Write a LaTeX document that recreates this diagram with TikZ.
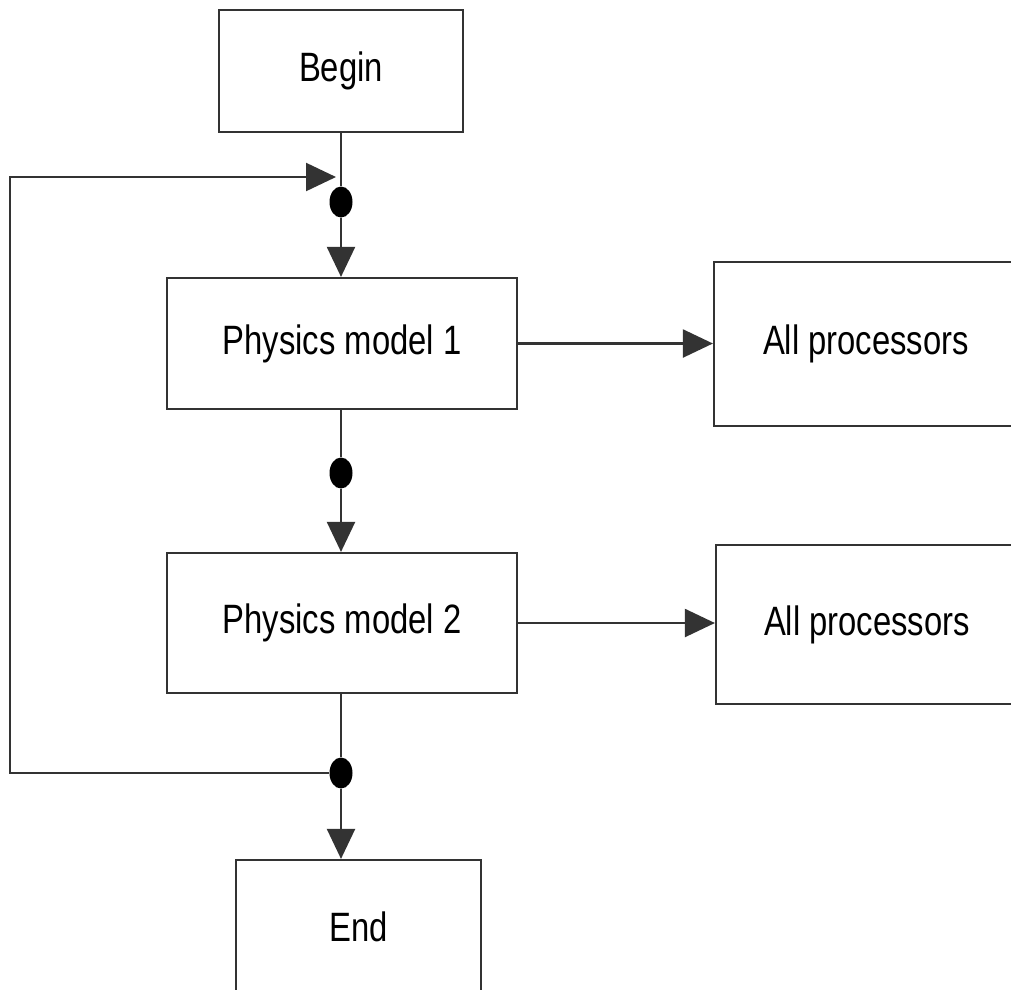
\documentclass[tikz,border=0pt]{standalone}
\usepackage{fontspec}
\setmainfont{Liberation Sans}
\usetikzlibrary{arrows.meta,shapes.geometric}
\tikzset{
  boxn/.style={draw=black!80, line width=2.2pt, rectangle, inner sep=0pt, fill=white,
    font=\fontsize{41}{48}\selectfont},
  dotn/.style={ellipse, fill=black, inner sep=0pt, minimum width=23pt, minimum height=31pt},
  conn/.style={draw=black!80, line width=2.2pt},
  arr/.style={conn, -{Triangle[length=30pt,width=28pt]}}
}
\newcommand{\lbl}[1]{\scalebox{0.8}[1]{#1}}
\begin{document}
\begin{tikzpicture}[x=1pt,y=-1pt]
\useasboundingbox (0,0) rectangle (1011,989);
\clip (0,0) rectangle (1011,989);
\fill[white] (0,0) rectangle (1011,989);
\node[boxn, minimum width=244pt, minimum height=122pt] (begin) at (341,71) {\lbl{Begin}};
\node[boxn, minimum width=350pt, minimum height=131pt] (pm1) at (342,343.5) {\lbl{Physics model 1}};
\node[boxn, minimum width=304pt, minimum height=164pt] (ap1) at (866,344) {\lbl{All processors}};
\node[boxn, minimum width=350pt, minimum height=140pt] (pm2) at (342,623) {\lbl{Physics model 2}};
\node[boxn, minimum width=302pt, minimum height=159pt] (ap2) at (867,624.5) {\lbl{All processors}};
\node[boxn, minimum width=245pt, minimum height=134pt] (end) at (358.5,927) {\lbl{End}};
\node[dotn] (d1) at (341,202) {};
\node[dotn] (d2) at (341,473) {};
\node[dotn] (d3) at (341,773) {};
\coordinate (lbl1) at (10,773);
\coordinate (ltl) at (10,177);
\coordinate (lin) at (336,177);
\draw[conn] (begin.south -| d1) -- (d1);
\draw[arr] (d1) -- (d1 |- pm1.north);
\draw[conn] (pm1.south -| d2) -- (d2);
\draw[arr] (d2) -- (d2 |- pm2.north);
\draw[conn] (pm2.south -| d3) -- (d3);
\draw[arr] (d3) -- (d3 |- end.north);
\draw[arr] (d3) -- (lbl1) -- (ltl) -- (lin);
\draw[arr] (pm1.east) -- (pm1.east -| ap1.west);
\draw[arr] (pm2.east) -- (pm2.east -| ap2.west);
\end{tikzpicture}
\end{document}
